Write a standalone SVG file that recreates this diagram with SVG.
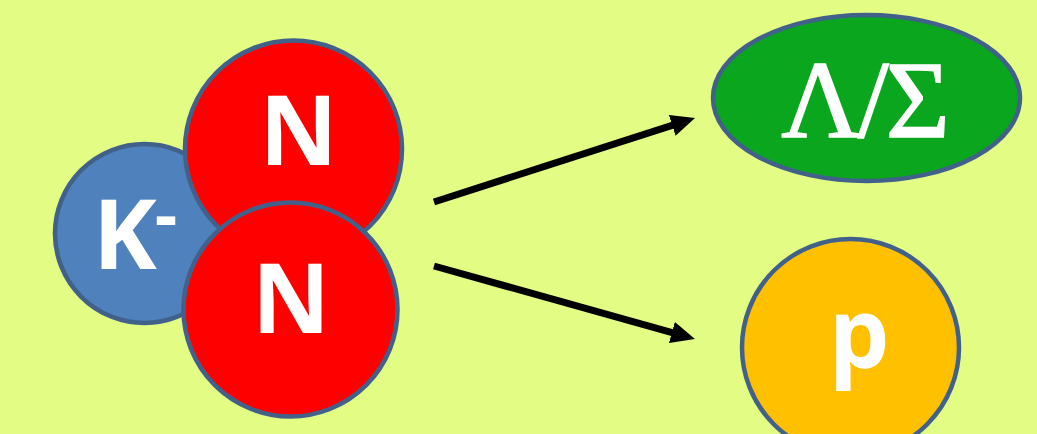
<svg xmlns="http://www.w3.org/2000/svg" width="1037" height="434" viewBox="0 0 1037 434">
<style>
.ball{stroke:#41618B;stroke-width:4.5}
.lbl{font-family:"Open Sans","Noto Sans","Liberation Sans",sans-serif;font-weight:bold;fill:#FFFFFF;font-size:96px}
.greek{font-family:"Liberation Serif","DejaVu Serif",serif;fill:#FFFFFF;stroke:#FFFFFF;stroke-width:1.6;font-size:110px;letter-spacing:-3px}
.arrow{stroke:#000000;stroke-width:7;fill:none}
</style>
<defs>
<marker id="head" viewBox="0 0 24 22" refX="4" refY="11" markerUnits="userSpaceOnUse" markerWidth="24" markerHeight="22" orient="auto">
<path d="M0,0 L24,11 L0,22 z" fill="#000000"/>
</marker>
</defs>
<rect x="0" y="0" width="1037" height="434" fill="#E2FC84"/>
<g id="kaon">
<circle class="ball" cx="144.5" cy="233.5" r="89.5" fill="#4F81BD"/>
<text class="lbl" x="93" y="269">K<tspan font-size="70" dx="-2" dy="-29">-</tspan></text>
</g>
<g id="nucleon-top">
<circle class="ball" cx="293.5" cy="149" r="108.5" fill="#FF0000"/>
<text class="lbl" x="298.5" y="165" text-anchor="middle">N</text>
</g>
<g id="nucleon-bottom">
<circle class="ball" cx="290.5" cy="309.5" r="107" fill="#FF0000"/>
<text class="lbl" x="291" y="333" text-anchor="middle">N</text>
</g>
<g id="hyperon">
<ellipse class="ball" cx="866.5" cy="98" rx="153.5" ry="83" fill="#0AA61E"/>
<text class="greek" x="864" y="137" text-anchor="middle">Λ/Σ</text>
</g>
<g id="proton">
<circle class="ball" cx="850.5" cy="347.5" r="108.5" fill="#FFC000"/>
<text class="lbl" x="859" y="368" text-anchor="middle">p</text>
</g>
<g id="connectors">
<line class="arrow" x1="434" y1="202" x2="676" y2="124.1" marker-end="url(#head)"/>
<line class="arrow" x1="434" y1="266" x2="675.7" y2="333.6" marker-end="url(#head)"/>
</g>
</svg>
